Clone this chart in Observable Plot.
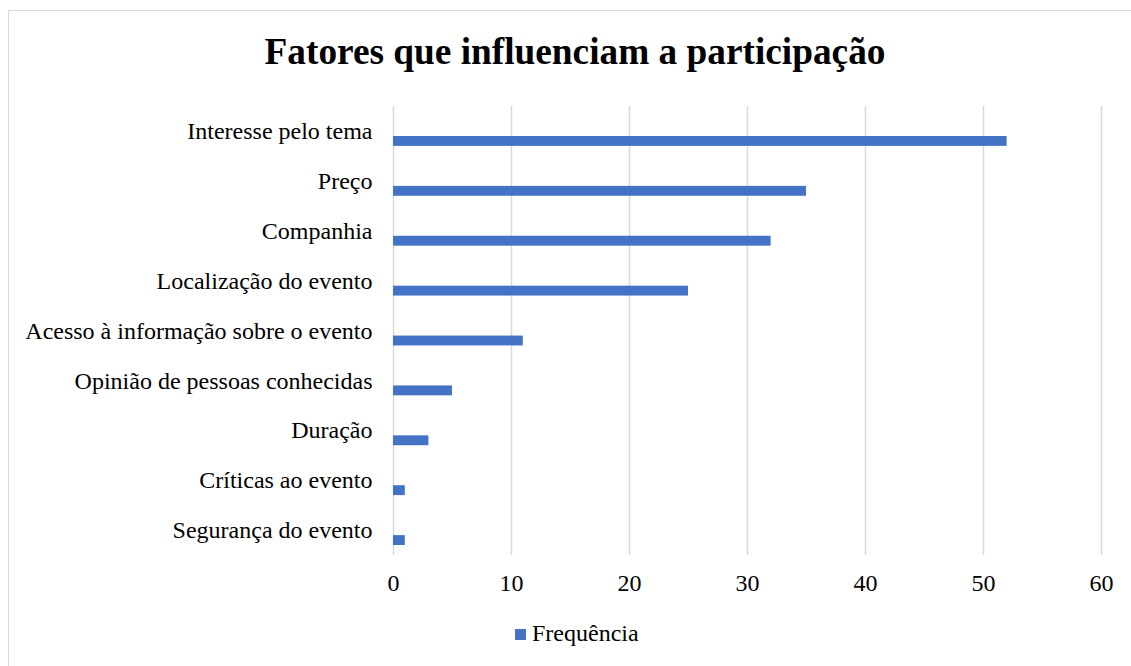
<!DOCTYPE html>
<html>
<head>
<meta charset="utf-8">
<script src="https://cdn.jsdelivr.net/npm/d3@7"></script>
<script src="https://cdn.jsdelivr.net/npm/@observablehq/plot@0.6"></script>
<style>
  html, body { margin: 0; padding: 0; background: #fff; }
  body { width: 1131px; height: 666px; position: relative; overflow: hidden; font-family: "Liberation Serif", "Times New Roman", serif; }
  #frame { position: absolute; left: 8px; top: 10px; width: 1200px; height: 700px; border: 1.5px solid #d9d9d9; box-sizing: border-box; }
  #title { position: absolute; left: 0; width: 1150px; top: 32px; height: 40px; line-height: 40px; text-align: center; font-size: 37.3px; font-weight: bold; color: #000; white-space: nowrap; }
  #chart { position: absolute; left: 0; top: 96px; }
  #chart svg, #chart svg text { font-family: "Liberation Serif", "Times New Roman", serif !important; }
  #legend { position: absolute; left: 515px; top: 621px; height: 24px; line-height: 24px; font-size: 24px; color: #000; white-space: nowrap; }
  #legend .sw { display: inline-block; width: 11px; height: 11px; background: #4472C4; margin-right: 6px; vertical-align: 1px; }
</style>
</head>
<body>
<div id="frame"></div>
<div id="title">Fatores que influenciam a participação</div>
<div id="chart"></div>
<div id="legend"><span class="sw"></span>Frequência</div>
<script>
const categories = [
  "Interesse pelo tema",
  "Preço",
  "Companhia",
  "Localização do evento",
  "Acesso à informação sobre o evento",
  "Opinião de pessoas conhecidas",
  "Duração",
  "Críticas ao evento",
  "Segurança do evento"
];
const frequencia = [52, 35, 32, 25, 11, 5, 3, 1, 1];
const xTicks = [0, 10, 20, 30, 40, 50, 60];
const seriesName = "Frequência";
const barColor = "#4472C4";

const data = categories.map((c, i) => ({categoria: c, valor: frequencia[i]}));

const chart = Plot.plot({
  width: 1131,
  height: 509,
  marginTop: 10,
  marginBottom: 50,
  marginLeft: 393,
  marginRight: 30,
  style: {fontSize: "24px", color: "#000", background: "transparent"},
  x: {domain: [0, 60], ticks: xTicks},
  y: {domain: categories, padding: 0, round: false},
  marks: [
    Plot.gridX(xTicks, {stroke: "#d9d9d9", strokeOpacity: 1, strokeWidth: 1.5}),
    Plot.barX(data, {x: "valor", y: "categoria", fill: barColor, insetTop: 30, insetBottom: 10}),
    Plot.axisX(xTicks, {anchor: "bottom", tickSize: 0, tickPadding: 18, fontSize: 24, label: null, tickFormat: d => String(d)}),
    Plot.axisY({anchor: "left", tickSize: 0, tickPadding: 21, fontSize: 24, label: null})
  ]
});
document.getElementById("chart").appendChild(chart);
</script>
</body>
</html>
